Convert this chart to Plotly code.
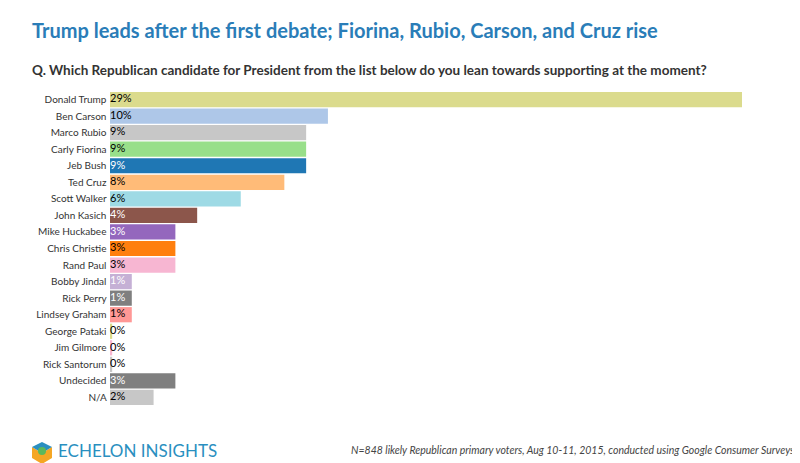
import plotly.graph_objects as go

candidates = ["Donald Trump", "Ben Carson", "Marco Rubio", "Carly Fiorina", "Jeb Bush", "Ted Cruz",
              "Scott Walker", "John Kasich", "Mike Huckabee", "Chris Christie", "Rand Paul",
              "Bobby Jindal", "Rick Perry", "Lindsey Graham", "George Pataki", "Jim Gilmore",
              "Rick Santorum", "Undecided", "N/A"]
values = [29.0, 10.0, 9.0, 9.0, 9.0, 8.0, 6.0, 4.0, 3.0, 3.0, 3.0, 1.0, 1.0, 1.0, 0.1, 0.1, 0.1, 3.0, 2.0]
labels = ["29%", "10%", "9%", "9%", "9%", "8%", "6%", "4%", "3%", "3%", "3%", "1%", "1%", "1%",
          "0%", "0%", "0%", "3%", "2%"]
colors = ["#dbdb8d", "#aec7e8", "#c7c7c7", "#98df8a", "#1f77b4", "#ffbb78", "#9edae5", "#8c564b",
          "#9467bd", "#ff7f0e", "#f7b6d2", "#c5b0d5", "#7f7f7f", "#ff9896", "#dbdb8d", "#f7b6d2",
          "#c7c7c7", "#7f7f7f", "#c7c7c7"]
dark = {"Jeb Bush", "John Kasich", "Mike Huckabee", "Bobby Jindal", "Rick Perry", "Undecided"}
text_colors = ["white" if c in dark else "black" for c in candidates]

fig = go.Figure(go.Bar(
    x=values, y=candidates, orientation="h",
    marker=dict(color=colors, line=dict(width=0)),
    hoverinfo="x+y",
))
fig.add_trace(go.Scatter(
    x=[0] * len(candidates), y=candidates, mode="text", text=labels,
    textposition="middle right",
    textfont=dict(color=text_colors, size=11, family="Lato"),
    cliponaxis=False, hoverinfo="skip",
))

fig.update_layout(
    width=800, height=463,
    margin=dict(l=102, r=66, t=75, b=57),
    plot_bgcolor="white", paper_bgcolor="white",
    font=dict(family="Lato", color="#333"),
    bargap=0.08, showlegend=False,
    xaxis=dict(range=[0, 29], visible=False, automargin=False),
    yaxis=dict(autorange="reversed", tickfont=dict(size=10, color="#333", family="Lato"),
               ticks="", showline=False, ticksuffix=" ", automargin=False),
)

fig.add_annotation(text="<b>Trump leads after the first debate; Fiorina, Rubio, Carson, and Cruz rise</b>",
                   xref="paper", yref="paper", x=-0.127, y=1.16, xanchor="left", yanchor="middle",
                   showarrow=False, font=dict(size=20, color="#2a7db8", family="Lato"))
fig.add_annotation(text="<b>Q. Which Republican candidate for President from the list below do you lean towards supporting at the moment?</b>",
                   xref="paper", yref="paper", x=-0.127, y=1.04, xanchor="left", yanchor="middle",
                   showarrow=False, font=dict(size=13.5, color="#333", family="Lato"))
fig.add_annotation(text="<i>N=848 likely Republican primary voters, Aug 10-11, 2015, conducted using Google Consumer Surveys</i>",
                   xref="paper", yref="paper", x=1.085, y=-0.11, xanchor="right", yanchor="middle",
                   showarrow=False, font=dict(size=10.5, color="#444", family="Lato"))
fig.add_annotation(text="ECHELON INSIGHTS", xref="paper", yref="paper", x=-0.085, y=-0.11,
                   xanchor="left", yanchor="middle", showarrow=False,
                   font=dict(size=17, color="#2a8fc0", family="Lato"))

# logo hexagon (paper coords are approximate)
def px(x, y):
    return (x - 102) / 632, (406 - y) / 331

hexpts = [(34, 434), (44, 439), (44, 450), (34, 456), (24, 450), (24, 439)]
top = [hexpts[5], hexpts[0], hexpts[1], (34, 445)]
bot = [hexpts[5], (34, 445), hexpts[1], hexpts[2], hexpts[3], hexpts[4]]
for pts, col in [(bot, "#f5a623"), (top, "#2a8fc0")]:
    path = "M " + " L ".join("%.4f,%.4f" % px(*p) for p in pts) + " Z"
    fig.add_shape(type="path", path=path, xref="paper", yref="paper",
                  fillcolor=col, line=dict(width=0))
fig.add_shape(type="circle", xref="paper", yref="paper",
              x0=px(30, 0)[0], x1=px(38, 0)[0], y0=px(0, 447)[1], y1=px(0, 439)[1],
              fillcolor="#5cb85c", line=dict(width=0))

fig.write_html("out.html")
